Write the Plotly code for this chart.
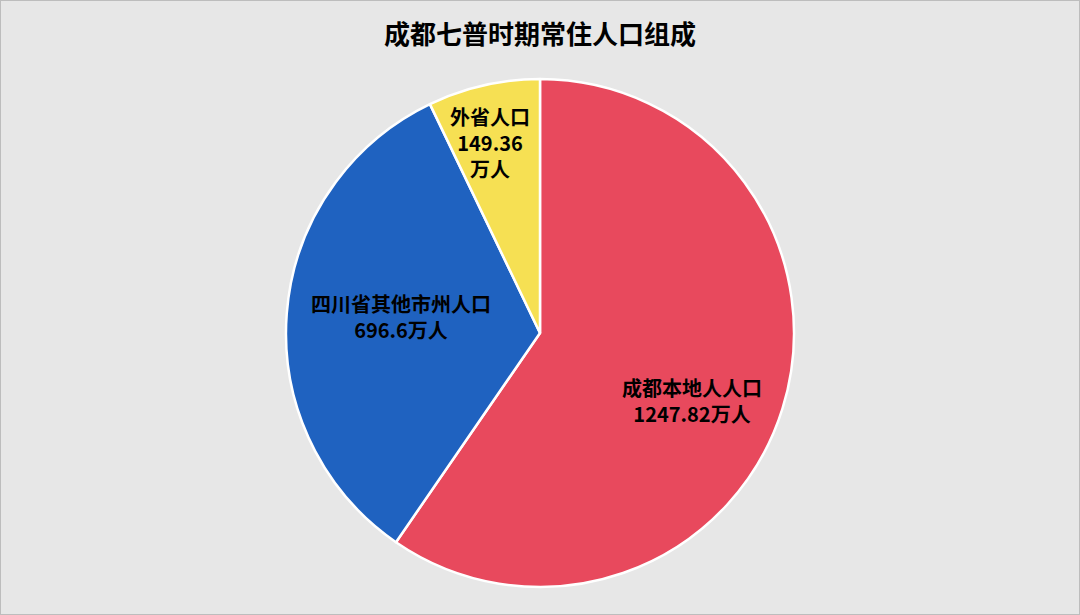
import plotly.graph_objects as go

# 成都七普常住人口（万人）
categories = ['成都本地人人口', '四川省其他市州人口', '外省人口']
values = [1247.82, 696.6, 149.36]
label_texts = ['成都本地人人口<br>1247.82万人', '四川省其他市州人口<br>696.6万人', '外省人口<br>149.36<br>万人']
colors = ['#e8495d', '#1f62c0', '#f6e053']

# label centres in pixels (the reference puts them off the default spot)
label_pos = [(692, 400), (401, 316), (490, 142)]

W, H = 1080, 615

fig = go.Figure()
fig.add_trace(go.Pie(
    labels=categories, values=values,
    sort=False, direction='clockwise', rotation=0,
    marker=dict(colors=colors, line=dict(color='white', width=2.5)),
    textinfo='none',
    domain=dict(x=[0, 1], y=[28/H, 536/H]),
    showlegend=False, hoverinfo='label+value'
))

annots = []
for txt, (px, py) in zip(label_texts, label_pos):
    annots.append(dict(text='<b>' + txt + '</b>', x=px/W, y=1-py/H, xref='paper', yref='paper',
                       showarrow=False, xanchor='center', yanchor='middle',
                       font=dict(size=20, color='black', family='Noto Sans CJK SC')))

fig.update_layout(
    width=W, height=H,
    margin=dict(l=0, r=0, t=0, b=0),
    paper_bgcolor='#e7e7e7',
    font=dict(family='Noto Sans CJK SC'),
    title=dict(text='<b>成都七普时期常住人口组成</b>', x=0.5, y=1-35/H, xanchor='center', yanchor='middle',
               font=dict(size=26, color='black')),
    annotations=annots,
    shapes=[dict(type='rect', xref='paper', yref='paper', x0=0, y0=0, x1=1, y1=1,
                 line=dict(color='#bdbdbd', width=2))]
)

fig.write_html("out.html", config={'displayModeBar': False},
               post_script="document.body.style.margin='0';")
